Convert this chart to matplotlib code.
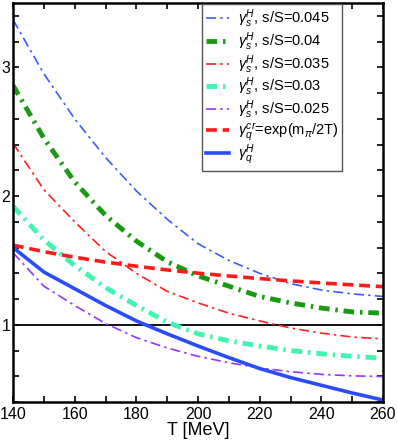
import matplotlib
matplotlib.use("Agg")
import matplotlib.pyplot as plt
from matplotlib.ticker import MultipleLocator

plt.rcParams["font.family"] = ["Liberation Sans", "DejaVu Sans"]
plt.rcParams["mathtext.fontset"] = "custom"
plt.rcParams["mathtext.rm"] = "Liberation Sans"
plt.rcParams["mathtext.it"] = "Liberation Sans:italic"

T = [140, 150, 160, 170, 180, 190, 200, 210, 220, 230, 240, 250, 260]

gs_045 = [3.37, 2.95, 2.60, 2.30, 2.04, 1.82, 1.63, 1.50, 1.40, 1.32, 1.27, 1.24, 1.22]
gs_040 = [2.86, 2.45, 2.11, 1.85, 1.65, 1.49, 1.38, 1.30, 1.22, 1.17, 1.13, 1.10, 1.09]
gs_035 = [2.41, 2.05, 1.80, 1.57, 1.40, 1.26, 1.17, 1.09, 1.03, 0.975, 0.935, 0.905, 0.89]
gs_030 = [1.92, 1.66, 1.46, 1.29, 1.15, 1.02, 0.93, 0.875, 0.835, 0.80, 0.775, 0.755, 0.74]
gs_025 = [1.56, 1.30, 1.15, 1.01, 0.90, 0.82, 0.755, 0.705, 0.665, 0.635, 0.615, 0.603, 0.598]
gq_cr = [1.619, 1.568, 1.525, 1.487, 1.455, 1.426, 1.401, 1.379, 1.359, 1.341, 1.325, 1.310, 1.296]
gq_H = [1.60, 1.41, 1.28, 1.15, 1.03, 0.93, 0.835, 0.745, 0.66, 0.59, 0.53, 0.47, 0.415]

labels = [
    r"$\gamma_s^H$, s/S=0.045",
    r"$\gamma_s^H$, s/S=0.04",
    r"$\gamma_s^H$, s/S=0.035",
    r"$\gamma_s^H$, s/S=0.03",
    r"$\gamma_s^H$, s/S=0.025",
    r"$\gamma_q^{cr}$=exp(m$_\pi$/2T)",
    r"$\gamma_q^H$",
]

fig = plt.figure(figsize=(3.98, 4.42), dpi=100)
ax = fig.add_axes([0.0327, 0.0905, 0.9296, 0.9027])

ax.axhline(1.0, color="black", lw=1.3, zorder=1)
ax.plot(T, gs_045, color="#3a5cff", lw=1.2, ls=(0, (6, 2.5, 1.5, 2.5)), label=labels[0])
ax.plot(T, gs_040, color="#1a9a10", lw=3.5, ls=(0, (2.2, 1.2, 0.5, 1.2)), label=labels[1])
ax.plot(T, gs_035, color="#ff2020", lw=1.2, ls=(0, (6, 2.5, 1.5, 2.5)), label=labels[2])
ax.plot(T, gs_030, color="#40f5b0", lw=3.5, ls=(0, (2.2, 1.2, 0.5, 1.2)), label=labels[3])
ax.plot(T, gs_025, color="#9933ff", lw=1.2, ls=(0, (6, 2.5, 1.5, 2.5)), label=labels[4])
ax.plot(T, gq_cr, color="#ff1a1a", lw=2.6, ls=(0, (3, 1.6)), label=labels[5])
ax.plot(T, gq_H, color="#2a4cff", lw=2.6, ls="-", label=labels[6])

ax.set_xlim(140, 260)
ax.set_ylim(0.4, 3.5)
ax.xaxis.set_major_locator(MultipleLocator(20))
ax.xaxis.set_minor_locator(MultipleLocator(10))
ax.yaxis.set_major_locator(MultipleLocator(1))
ax.yaxis.set_minor_locator(MultipleLocator(0.2))
ax.tick_params(which="both", direction="in", top=True, right=True, length=4, width=1.2, labelsize=11.5)
ax.tick_params(axis="y", pad=2)
for s in ax.spines.values():
    s.set_linewidth(1.8)
ax.set_xlabel("T [MeV]", fontsize=13, labelpad=0)

leg = ax.legend(loc="upper right", bbox_to_anchor=(0.89, 0.997), borderaxespad=0.0,
                fontsize=10.5, handlelength=1.6, handletextpad=0.6, labelspacing=0.0,
                fancybox=False, framealpha=1, edgecolor="#555555", borderpad=0.25)
leg.get_frame().set_linewidth(1.0)

fig.savefig("out.png", dpi=100)
